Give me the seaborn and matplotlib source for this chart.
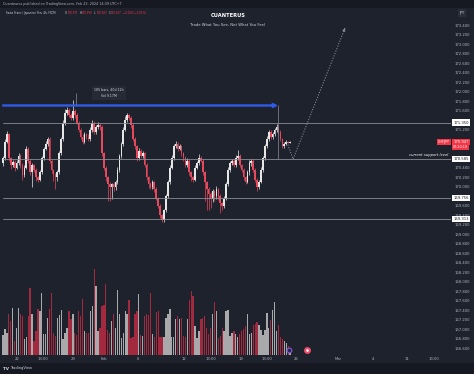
import numpy as np
import pandas as pd
import seaborn as sns
import matplotlib.pyplot as plt
from matplotlib.patches import Rectangle
from matplotlib.ticker import MultipleLocator, FuncFormatter

sns.set_style("dark")
plt.rcParams["font.family"] = ["DejaVu Sans"]

BG = "#1e222d"
BAND = "#161922"
TXT = "#b2b5be"
UP = "#e6e6e6"
DOWN = "#e8485c"

# CHF/JPY 4h closes
first_open = 170.50
closes = [
    170.60, 170.95, 171.10, 170.60, 170.45, 170.52, 170.40, 170.50, 170.65, 170.45,
    170.25, 170.40, 170.80, 170.55, 170.30, 170.45, 170.35, 170.20, 170.15, 170.30,
    170.60, 170.80, 170.90, 171.00, 170.55, 170.35, 170.25, 170.20, 170.30, 170.70,
    171.00, 171.35, 171.55, 171.62, 171.50, 171.45, 171.60, 171.50, 171.35, 171.20,
    171.05, 170.95, 171.10, 171.05,
    171.00, 171.20, 171.35, 171.15, 171.25, 171.30, 171.25, 170.70, 170.40, 170.20,
    170.05, 170.00, 170.05, 170.00, 170.10, 170.35, 170.65, 170.90, 171.20, 171.40,
    171.50, 171.45, 171.30, 171.00, 170.85, 170.60, 170.75, 170.65, 170.70, 170.45,
    170.20, 170.05, 170.00, 170.10, 169.95, 169.75, 169.60, 169.40, 169.30,
    169.50, 169.80, 170.10, 170.40, 170.60, 170.85, 170.90,
    170.80, 170.85, 170.70, 170.60, 170.45, 170.55, 170.30, 170.20, 170.15, 170.40,
    170.50, 170.60, 170.55, 170.30, 170.10, 169.95, 169.85, 169.75, 169.90, 169.80,
    169.95, 169.80, 169.65, 169.60, 169.75, 170.05, 170.35, 170.50, 170.55, 170.45,
    170.60, 170.65, 170.45, 170.35, 170.20, 170.10, 170.30, 170.50, 170.55, 170.35,
    170.15, 170.00, 170.10, 170.35, 170.60, 170.85, 171.00, 171.15, 171.05, 171.10,
    171.20, 171.25, 171.15, 171.00, 170.85, 170.90, 170.95, 170.93, 170.947,
]
# upper / lower wicks in hundredths of a yen
wick_up = [
    5, 6, 8, 4, 3, 5, 4, 6, 5, 3, 4, 5, 6, 3, 4, 5, 3, 4, 3, 5,
    5, 4, 6, 5, 4, 3, 3, 4, 5, 6,
    5, 6, 8, 5, 4, 6, 22, 4, 5, 3, 4, 5, 6, 4,
    5, 6, 5, 4, 5, 6, 4, 5, 3, 4,
    3, 4, 3, 4, 5, 6, 4, 5, 6, 8,
    6, 4, 3, 4, 5, 3, 6, 4, 5, 3, 4, 3, 4, 5, 3, 4, 3, 4, 3,
    4, 5, 4, 5, 6, 5, 7,
    4, 5, 3, 4, 5, 6, 3, 4, 3, 6,
    5, 8, 4, 3, 4, 3, 4, 3, 5, 4,
    6, 3, 4, 3, 5, 4, 6, 5, 4, 3,
    6, 12, 4, 3, 4, 3, 5, 6, 4, 3,
    4, 3, 5, 6, 5, 4, 6, 5, 4, 5,
    4, 6, 3, 4, 3, 4, 3, 2, 2,
]
wick_dn = [
    6, 4, 3, 5, 8, 4, 6, 3, 4, 5, 10, 4, 3, 5, 6, 30, 5, 8, 6, 4,
    3, 4, 3, 4, 5, 6, 12, 25, 8, 4,
    3, 4, 5, 3, 4, 5, 4, 6, 3, 5, 4, 6, 3, 4,
    4, 3, 5, 4, 3, 4, 5, 6, 5, 8,
    35, 30, 25, 10, 6, 4, 3, 4, 5, 3,
    4, 5, 6, 4, 5, 6, 3, 4, 5, 4, 6, 8, 5, 4, 6, 4, 5, 6, 5,
    4, 3, 4, 5, 3, 4, 3,
    4, 3, 5, 6, 4, 3, 5, 8, 6, 4,
    3, 4, 3, 5, 40, 45, 35, 20, 8, 10,
    6, 8, 20, 10, 5, 4, 3, 4, 5, 3,
    4, 3, 4, 5, 6, 4, 3, 5, 6, 4,
    6, 10, 4, 3, 4, 3, 4, 3, 5, 4,
    3, 4, 5, 3, 4, 3, 2, 2, 2,
]
volume = [
    20, 26, 22, 41, 34, 47, 14, 27, 47, 41,
    39, 16, 18, 39, 67, 41, 14, 24, 46, 44,
    62, 21, 21, 37, 46, 62, 22, 19, 37, 40,
    45, 16, 22, 27, 44, 36, 41, 22, 20, 44,
    39, 56, 24, 22, 22, 44, 49, 86, 69, 24,
    27, 49, 50, 71, 25, 22, 34, 41, 27, 65,
    41, 17, 22, 44, 41, 55, 17, 18, 41, 44,
    61, 20, 19, 39, 41, 40, 62, 21, 18, 43,
    44, 18, 18, 18, 37, 41, 46, 18, 18, 36,
    39, 36, 37, 19, 18, 36, 55, 64, 59, 29,
    17, 24, 36, 37, 39, 27, 21, 27, 41, 53,
    44, 17, 19, 27, 24, 44, 45, 19, 22, 24,
    21, 18, 21, 24, 26, 29, 41, 21, 22, 30,
    31, 33, 30, 25, 20, 25, 42, 27, 35, 45,
    53, 24, 30, 18, 16, 14, 12, 9, 7,
]

levels = [171.350, 170.585, 169.756, 169.313]
level_labels = ["171.350", "170.585", "169.756", "169.313"]
last_price = 170.947
measure_price = 171.71
measure_end_bar = 141.8
proj_bars = [146.4, 149.5, 176.3]
proj_prices = [170.94, 170.58, 173.34]

xtick_pos = [7.2, 20.6, 36.1, 52.1, 69.6, 93.3, 107.2, 122.7, 136.1, 151.0, 172.7, 190.7, 208.2, 222.2]
xtick_lab = ["22", "13:00", "29", "Feb", "6", "12", "13:00", "19", "13:00", "26", "Mar", "4", "11", "13:00"]

df = pd.DataFrame({"close": closes, "vol": volume})
df["open"] = [first_open] + closes[:-1]
df["high"] = df[["open", "close"]].max(axis=1) + np.array(wick_up) / 100
df["low"] = df[["open", "close"]].min(axis=1) - np.array(wick_dn) / 100
df["up"] = df["close"] >= df["open"]
df["bar"] = np.arange(len(df))

W, H = 474, 374
fig = plt.figure(figsize=(W / 100, H / 100), dpi=100, facecolor=BG)
ax = fig.add_axes([0, 19 / H, 451 / W, 347 / H])
ax.set_facecolor(BG)
vax = ax.twinx()
ax.set_zorder(2)
vax.set_zorder(1)
ax.patch.set_visible(False)

# volume
vcol = np.where(df["up"], "#a9a9ab", "#a32a3e")
vax.bar(df["bar"], df["vol"], width=0.7, color=vcol, linewidth=0)
vax.set_ylim(0, df["vol"].max() * 4.03)
vax.set_yticks([])
for s in vax.spines.values():
    s.set_visible(False)

# candles
ccol = np.where(df["up"], UP, DOWN)
ax.vlines(df["bar"], df["low"], df["high"], colors=ccol, linewidth=0.5)
body = (df["close"] - df["open"]).where(lambda s: s.abs() > 0.015, 0.015)
ax.bar(df["bar"], body, bottom=df["open"], width=0.85, color=ccol, linewidth=0)

ax.set_xlim(-3 / 1.94, 448 / 1.94)
ax.set_ylim(170 - 168.3 / 47.5, 170 + 178.7 / 47.5)

FS = 2.7

# horizontal levels
for lv, lab in zip(levels, level_labels):
    ax.axhline(lv, xmin=3 / 451, xmax=1, color="#8a8d96", lw=0.6)
    ax.annotate(lab, xy=(1.0, lv), xycoords=("axes fraction", "data"), xytext=(1.6, 0),
                textcoords="offset points", ha="left", va="center", fontsize=FS, color="#131722",
                bbox=dict(boxstyle="square,pad=0.3", fc="white", ec="none"), annotation_clip=False)

# measure arrow
ax.annotate("", xy=(measure_end_bar, measure_price), xytext=(0, measure_price),
            arrowprops=dict(arrowstyle="-|>", color="#2f5bea", lw=1.7, mutation_scale=5,
                            shrinkA=0, shrinkB=0))
ax.vlines(measure_end_bar, 170.58, measure_price, color="#8a8d96", lw=0.5)
ax.vlines(37.6, measure_price, 171.97, color="#8a8d96", lw=0.5)
ax.text(54.6, 171.97, "185 bars, 40d 12h\nVol 9.17M", ha="center", va="center", fontsize=2.3,
        color="#d1d4dc", linespacing=1.6,
        bbox=dict(boxstyle="square,pad=0.6", fc="#262a35", ec="none"))

# projection path
sns.lineplot(x=proj_bars, y=proj_prices, sort=False, ax=ax, color="#8a8d96", lw=0.7,
             linestyle=(0, (1.2, 1.5)))
ax.annotate("", xy=(proj_bars[-1], proj_prices[-1]), xytext=(proj_bars[-1] - 0.6, proj_prices[-1] - 0.06),
            arrowprops=dict(arrowstyle="-|>", color="#8a8d96", lw=0.6, mutation_scale=4))

ax.text(0.994, 170.667, "current support level", transform=ax.get_yaxis_transform(),
        ha="right", va="center", fontsize=2.7, style="italic", color="white")

# last price
ax.annotate(f"{last_price:.3f}", xy=(1.0, last_price), xycoords=("axes fraction", "data"),
            xytext=(1.6, 0), textcoords="offset points", ha="left", va="center", fontsize=FS,
            color="white", bbox=dict(boxstyle="square,pad=0.3", fc="#f23645", ec="none"),
            annotation_clip=False)
ax.annotate("00:20:19", xy=(1.0, last_price), xycoords=("axes fraction", "data"),
            xytext=(1.6, -3.7), textcoords="offset points", ha="left", va="center", fontsize=2.4,
            color="white", bbox=dict(boxstyle="square,pad=0.3", fc="#f23645", ec="none"),
            annotation_clip=False)
ax.annotate("CHFJPY", xy=(1.0, last_price), xycoords=("axes fraction", "data"),
            xytext=(-1, 0), textcoords="offset points", ha="right", va="center", fontsize=2.4,
            color="white", bbox=dict(boxstyle="square,pad=0.35", fc="#f23645", ec="none"))

# event markers
ax.scatter([147.4], [166.56], s=12, facecolor="#2a2350", edgecolor="#7b5cd6", lw=0.8, zorder=5)
ax.scatter([156.7], [166.56], s=12, facecolor="white", edgecolor="#f04a6a", lw=1.5, zorder=5)

# price scale: ticks hidden where a label box sits on top (incl. the JPY box)
covered = levels + [last_price, last_price - 0.12, 173.6]


def price_fmt(v, pos):
    if min(abs(v - c) for c in covered) < 0.07:
        return ""
    return f"{v:.3f}"


ax.grid(False)
vax.grid(False)
for s in ax.spines.values():
    s.set_visible(False)
ax.yaxis.tick_right()
ax.yaxis.set_major_locator(MultipleLocator(0.2))
ax.yaxis.set_major_formatter(FuncFormatter(price_fmt))
ax.tick_params(axis="y", length=0, pad=2.4, labelsize=FS, labelcolor=TXT)
ax.set_xticks(xtick_pos, xtick_lab)
ax.tick_params(axis="x", length=0, pad=1.8, labelsize=FS, labelcolor=TXT)
ax.set_xlabel("")
ax.set_ylabel("")

# header and footer bands
fig.patches.append(Rectangle((0, 1 - 8 / H), 1, 8 / H, transform=fig.transFigure, fc=BAND, ec="none"))
fig.patches.append(Rectangle((0, 0), 1, 11 / H, transform=fig.transFigure, fc=BAND, ec="none"))
fig.text(3 / W, 1 - 4 / H, "Cuanteuros published on TradingView.com, Feb 23, 2024 14:39 UTC+7",
         fontsize=2.4, color=TXT, va="center")
fig.text(3 / W, 5.5 / H, "TV", fontsize=3.0, weight="bold", color="#d1d4dc", va="center")
fig.text(10 / W, 5.5 / H, "TradingView", fontsize=2.6, color="#d1d4dc", va="center")

# symbol line
yy = 1 - 13 / H
SF = 1.9
fig.text(6 / W, yy, "Swiss Franc / Japanese Yen, 4h, FXCM", fontsize=SF, color="#d1d4dc", va="center")
for px, lab, val in [(65, "O", "170.971"), (79.5, "H", "170.999"), (94, "L", "170.923"), (108.5, "C", "170.947")]:
    fig.text(px / W, yy, lab, fontsize=SF, color="#d1d4dc", va="center")
    fig.text((px + 2.6) / W, yy, val, fontsize=SF, color="#f23645", va="center")
fig.text(123 / W, yy, "\u22120.024 (\u22120.01%)", fontsize=SF, color="#f23645", va="center")

fig.text(228 / W, 1 - 15.5 / H, "CUANTERUS", fontsize=3.7, weight="bold", color="white",
         ha="center", va="center")
fig.text(227 / W, 1 - 25 / H, "Trade What You See, Not What You Feel", fontsize=2.7,
         color="#d1d4dc", ha="center", va="center")
fig.text(462 / W, 1 - 13 / H, "JPY", fontsize=2.5, color="#d1d4dc", ha="center", va="center",
         bbox=dict(boxstyle="square,pad=0.5", fc="#2a2e39", ec="none"))

fig.savefig("out.png", dpi=100, facecolor=BG)
